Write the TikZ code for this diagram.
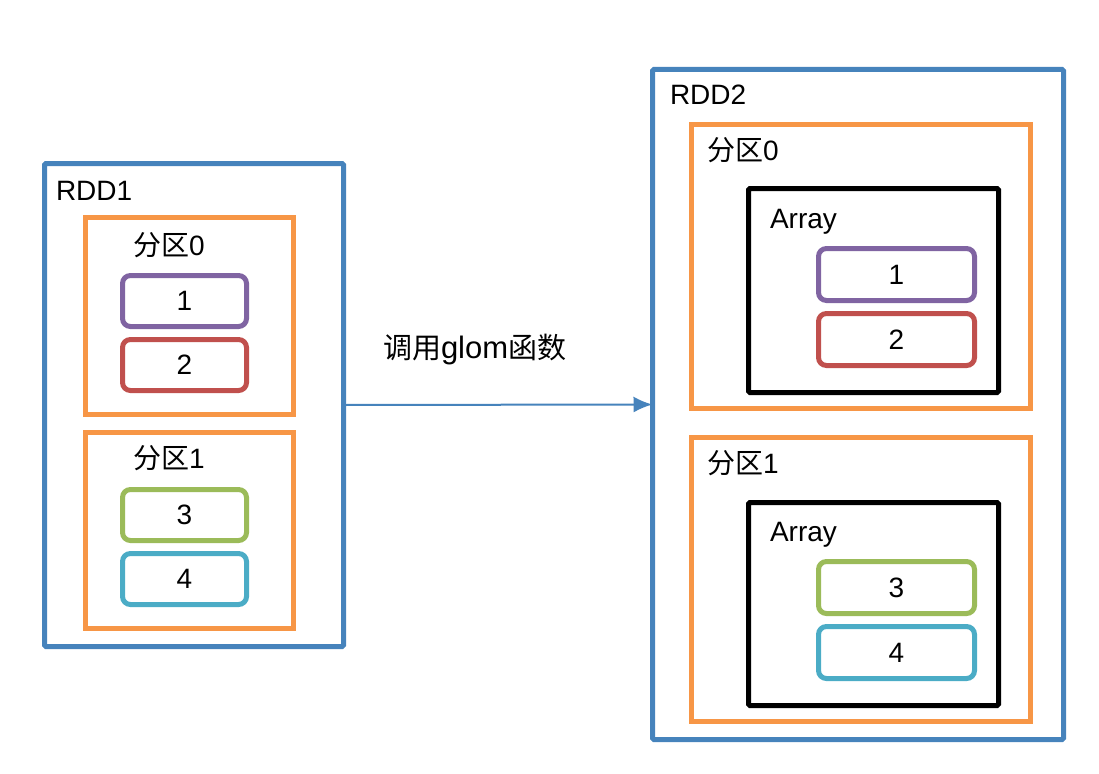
\documentclass[tikz,border=0pt]{standalone}
\usepackage{fontspec}
\setmainfont{Liberation Sans}
\newfontfamily\cjk{Noto Sans CJK SC}
\usetikzlibrary{arrows.meta}
\definecolor{rddblue}{HTML}{4683BC}
\definecolor{partorange}{HTML}{F79646}
\definecolor{cpurple}{HTML}{8064A2}
\definecolor{cred}{HTML}{C0504D}
\definecolor{cgreen}{HTML}{9BBB59}
\definecolor{cteal}{HTML}{4BACC6}
\begin{document}
\begin{tikzpicture}[x=1pt,y=-1pt,
  every node/.style={font=\fontsize{28}{32}\selectfont, inner sep=0pt, outer sep=0pt},
  rddbox/.style={draw=rddblue, line width=5pt, rounded corners=1.5pt},
  partbox/.style={draw=partorange, line width=5pt},
  arrbox/.style={draw=black, line width=5pt, rounded corners=1.5pt},
  elem/.style={draw=#1, line width=5pt, rounded corners=8pt},
  lbl/.style={anchor=base west},
  conn/.style={draw=rddblue, line width=2pt, -{Latex[length=19pt,width=16pt]}}]
\useasboundingbox (0,0) rectangle (1099,773);
% left RDD
\node[rddbox, minimum width=299pt, minimum height=483pt] (rdd1) at (194,405) {};
\node[lbl] (rdd1l) at (56,200) {RDD1};
\node[partbox, minimum width=208pt, minimum height=197pt] (p0l) at (189.5,316) {};
\node[lbl] (p0ll) at (133,255) {{\cjk\fontsize{28}{32}\selectfont 分区}0};
\node[elem=cpurple, minimum width=124pt, minimum height=51pt] (e1l) at (184.5,301) {1};
\node[elem=cred, minimum width=124pt, minimum height=51pt] (e2l) at (184.5,365) {2};
\node[partbox, minimum width=208pt, minimum height=196pt] (p1l) at (189.5,530.5) {};
\node[lbl] (p1ll) at (133,468) {{\cjk\fontsize{28}{32}\selectfont 分区}1};
\node[elem=cgreen, minimum width=124pt, minimum height=51pt] (e3l) at (184.5,515) {3};
\node[elem=cteal, minimum width=124pt, minimum height=51pt] (e4l) at (184.5,579) {4};
% right RDD
\node[rddbox, minimum width=411pt, minimum height=670pt] (rdd2) at (858,404.5) {};
\node[lbl] (rdd2l) at (670,105) {RDD2};
\node[partbox, minimum width=339pt, minimum height=284pt] (p0r) at (861,266.5) {};
\node[lbl] (p0rl) at (707,160) {{\cjk\fontsize{28}{32}\selectfont 分区}0};
\node[arrbox, minimum width=250pt, minimum height=204pt] (a0) at (873.5,290.5) {};
\node[lbl] (a0l) at (770,228) {Array};
\node[elem=cpurple, minimum width=156pt, minimum height=52pt] (e1r) at (896.5,274.5) {1};
\node[elem=cred, minimum width=156pt, minimum height=52pt] (e2r) at (896.5,339.5) {2};
\node[partbox, minimum width=339pt, minimum height=284pt] (p1r) at (861,579.5) {};
\node[lbl] (p1rl) at (707,473) {{\cjk\fontsize{28}{32}\selectfont 分区}1};
\node[arrbox, minimum width=250pt, minimum height=203pt] (a1) at (873.5,604) {};
\node[lbl] (a1l) at (770,541) {Array};
\node[elem=cgreen, minimum width=156pt, minimum height=52pt] (e3r) at (896.5,587.5) {3};
\node[elem=cteal, minimum width=156pt, minimum height=52pt] (e4r) at (896.5,652.5) {4};
% connector
\draw[conn] (rdd1.east) -- (rdd2.west);
\node[lbl, font=\fontsize{31}{34}\selectfont] (conl) at (383,358) {{\cjk\fontsize{29}{32}\selectfont 调用}glom{\cjk\fontsize{29}{32}\selectfont 函数}};
\end{tikzpicture}
\end{document}
